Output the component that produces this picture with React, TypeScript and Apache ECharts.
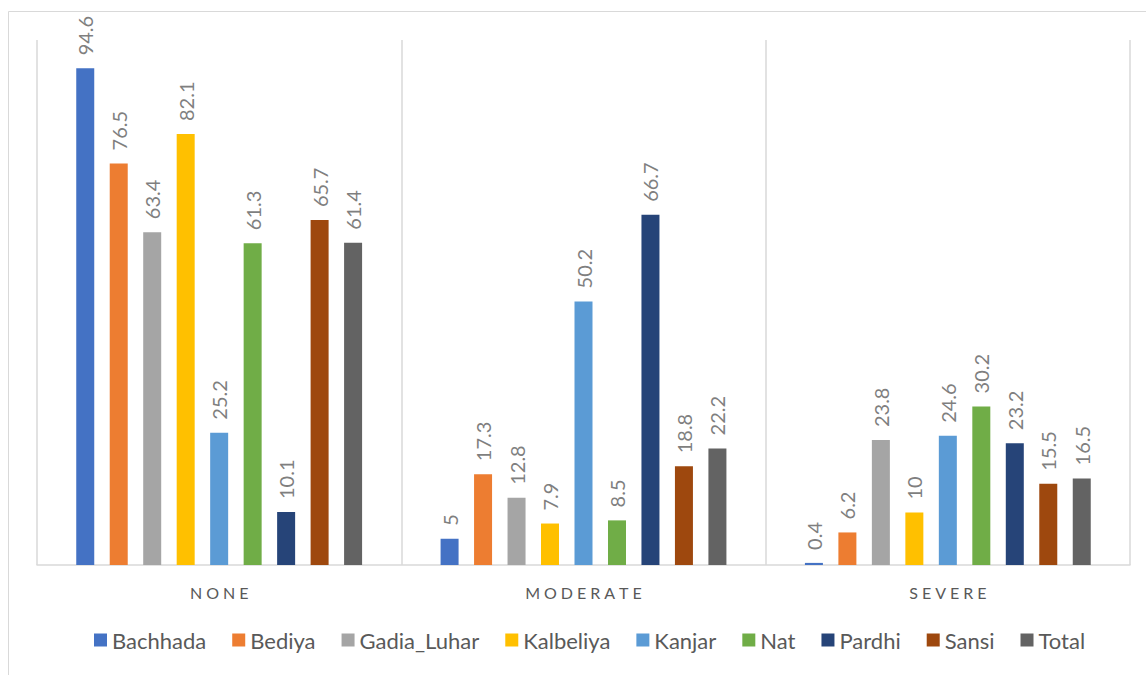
import React, { useEffect, useRef } from "react";
import * as echarts from "echarts";

const categories = ["NONE", "MODERATE", "SEVERE"];
const seriesNames = ["Bachhada", "Bediya", "Gadia_Luhar", "Kalbeliya", "Kanjar", "Nat", "Pardhi", "Sansi", "Total"];
const bachhada = [94.6, 5, 0.4];
const bediya = [76.5, 17.3, 6.2];
const gadiaLuhar = [63.4, 12.8, 23.8];
const kalbeliya = [82.1, 7.9, 10];
const kanjar = [25.2, 50.2, 24.6];
const nat = [61.3, 8.5, 30.2];
const pardhi = [10.1, 66.7, 23.2];
const sansi = [65.7, 18.8, 15.5];
const total = [61.4, 22.2, 16.5];
const seriesValues = [bachhada, bediya, gadiaLuhar, kalbeliya, kanjar, nat, pardhi, sansi, total];
const colors = ["#4472C4", "#ED7D31", "#A5A5A5", "#FFC000", "#5B9BD5", "#70AD47", "#264478", "#9E480E", "#636363"];

const FONT = "Lato, 'Noto Sans', sans-serif";

export default function App() {
  const ref = useRef<HTMLDivElement>(null);
  useEffect(() => {
    if (!ref.current) return;
    const chart = echarts.init(ref.current, undefined, { renderer: "svg" });
    chart.setOption({
      animation: false,
      color: colors,
      textStyle: { fontFamily: FONT },
      graphic: [
        {
          type: "rect",
          shape: { x: 8.5, y: 11.5, width: 1200, height: 700 },
          style: { fill: "none", stroke: "#d9d9d9", lineWidth: 1 },
          silent: true,
        },
      ],
      grid: { left: 37, right: 16, top: 40, bottom: 110, containLabel: false },
      legend: {
        data: seriesNames,
        bottom: 19,
        left: 89,
        itemWidth: 13,
        itemHeight: 13,
        itemGap: 26,
        icon: "rect",
        textStyle: { color: "#595959", fontSize: 22, fontFamily: FONT },
      },
      xAxis: {
        type: "category",
        data: categories,
        axisLine: { lineStyle: { color: "#d9d9d9", width: 1.5 } },
        axisTick: { show: false },
        splitLine: { show: true, lineStyle: { color: "#d9d9d9", width: 1.5 } },
        axisLabel: {
          color: "#595959",
          fontSize: 16,
          margin: 19,
          fontFamily: FONT,
          formatter: (v: string) => v.split("").join("\u2009\u2009"),
        },
      },
      yAxis: {
        type: "value",
        min: 0,
        max: 100,
        show: false,
        splitLine: { show: false },
      },
      series: seriesNames.map((name, i) => ({
        name,
        type: "bar",
        data: seriesValues[i],
        barWidth: 18,
        barGap: "86%",
        itemStyle: { color: colors[i] },
        label: {
          show: true,
          position: "top",
          rotate: 90,
          align: "left",
          verticalAlign: "middle",
          distance: 13,
          color: "#7f7f7f",
          fontSize: 20,
          fontFamily: FONT,
        },
      })),
    });
    return () => chart.dispose();
  }, []);
  return (
    <div
      ref={ref}
      style={{ position: "fixed", left: 0, top: 0, width: 1146, height: 675, background: "#fff" }}
    />
  );
}
